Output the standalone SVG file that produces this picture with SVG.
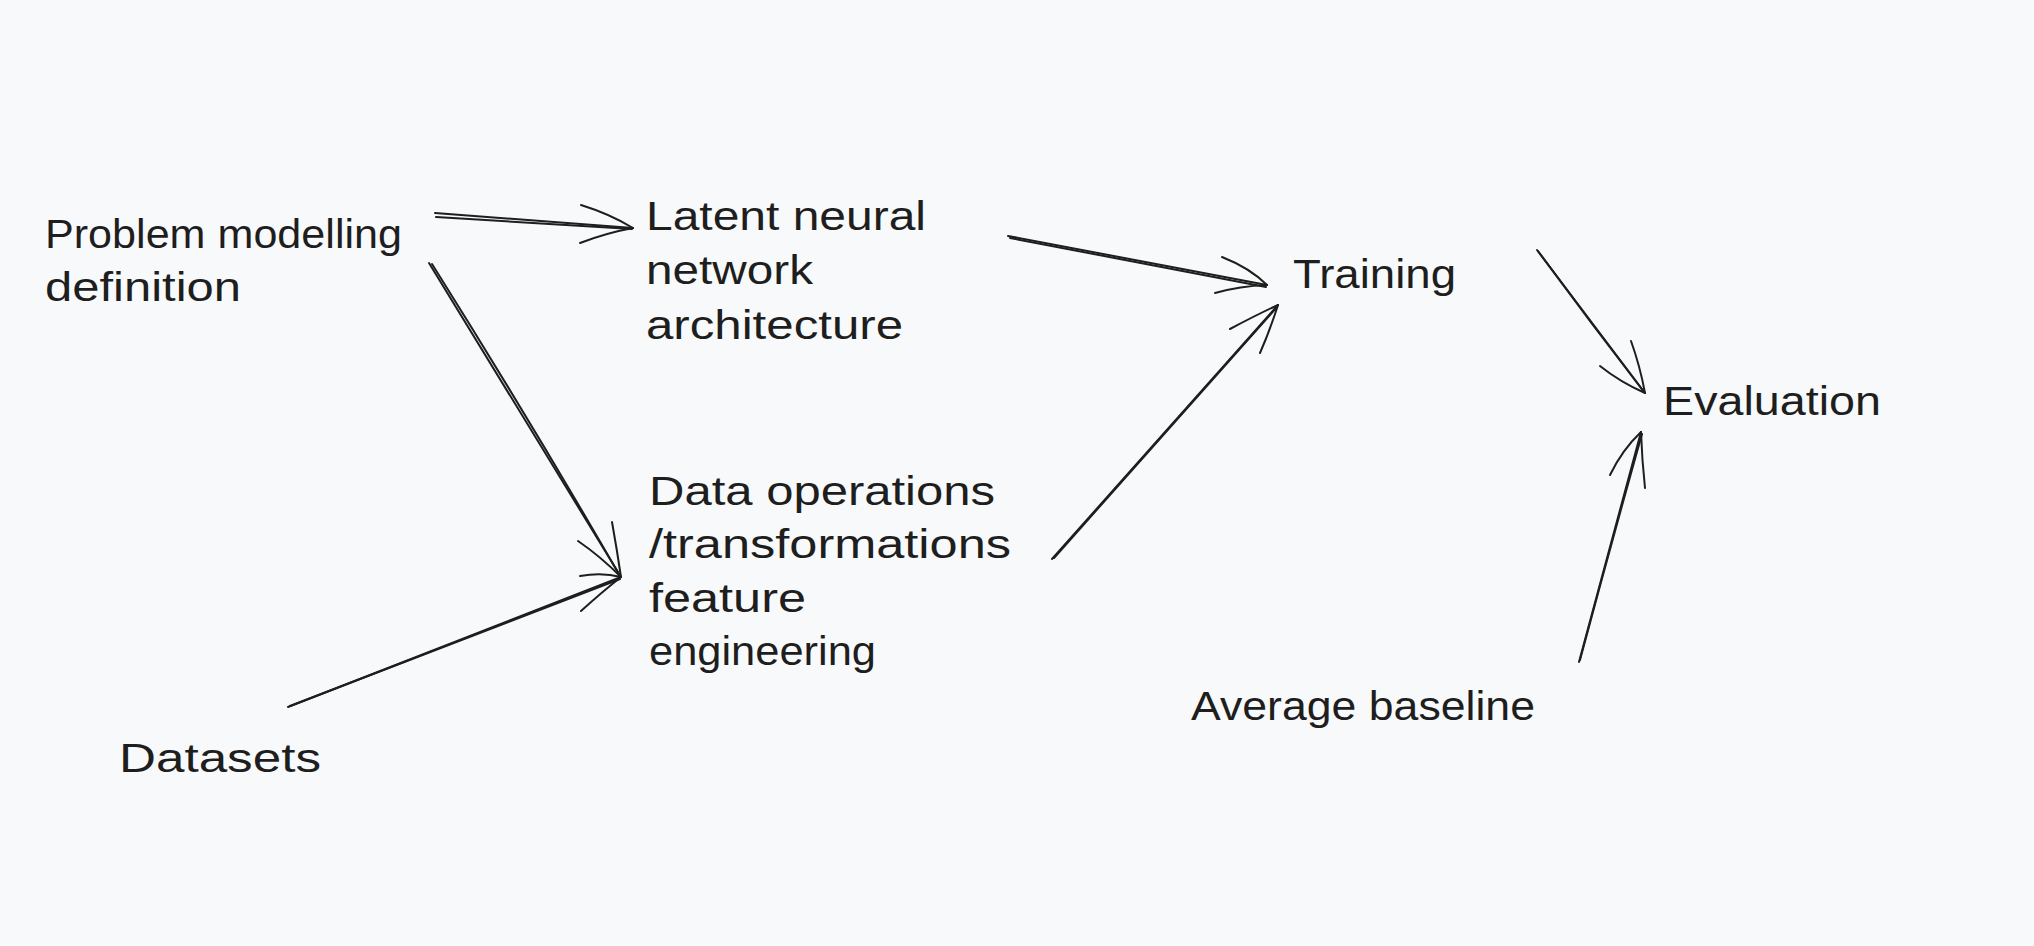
<svg xmlns="http://www.w3.org/2000/svg" width="2034" height="946" viewBox="0 0 2034 946">
<style>
  .t { font-family: "Liberation Sans", "DejaVu Sans", sans-serif; font-size: 40px; fill: #1e1e1e; }
  .c path { fill: none; stroke: #1e1e1e; stroke-width: 2; stroke-linecap: round; stroke-linejoin: round; }
</style>
<rect x="0" y="0" width="2034" height="946" fill="#f8f9fa"/>
<g id="node-problem">
  <text class="t" x="45" y="248" textLength="357" lengthAdjust="spacingAndGlyphs">Problem modelling</text>
  <text class="t" x="45" y="301" textLength="196" lengthAdjust="spacingAndGlyphs">definition</text>
</g>
<g id="node-latent">
  <text class="t" x="646" y="230" textLength="280" lengthAdjust="spacingAndGlyphs">Latent neural</text>
  <text class="t" x="646" y="284" textLength="167" lengthAdjust="spacingAndGlyphs">network</text>
  <text class="t" x="646" y="339" textLength="257" lengthAdjust="spacingAndGlyphs">architecture</text>
</g>
<g id="node-data">
  <text class="t" x="649" y="505" textLength="346" lengthAdjust="spacingAndGlyphs">Data operations</text>
  <text class="t" x="649" y="558" textLength="362" lengthAdjust="spacingAndGlyphs">/transformations</text>
  <text class="t" x="649" y="612" textLength="157" lengthAdjust="spacingAndGlyphs">feature</text>
  <text class="t" x="649" y="665" textLength="227" lengthAdjust="spacingAndGlyphs">engineering</text>
</g>
<g id="node-datasets">
  <text class="t" x="119" y="772" textLength="202" lengthAdjust="spacingAndGlyphs">Datasets</text>
</g>
<g id="node-training">
  <text class="t" x="1293" y="288" textLength="163" lengthAdjust="spacingAndGlyphs">Training</text>
</g>
<g id="node-evaluation">
  <text class="t" x="1663" y="415" textLength="218" lengthAdjust="spacingAndGlyphs">Evaluation</text>
</g>
<g id="node-baseline">
  <text class="t" x="1191" y="720" textLength="344" lengthAdjust="spacingAndGlyphs">Average baseline</text>
</g>
<g id="connectors" class="c">
  <!-- Problem -> Latent -->
  <path d="M435,213 L633,228"/>
  <path d="M436,217 Q540,223 632,229"/>
  <path d="M581,205 Q610,214 633,228"/>
  <path d="M580,243 Q606,233 633,228"/>
  <!-- Problem -> Data -->
  <path d="M429,263 L621,577"/>
  <path d="M432,264 Q530,420 620,576"/>
  <path d="M578,541 Q600,556 621,577"/>
  <path d="M612,522 Q617,550 621,577"/>
  <!-- Datasets -> Data -->
  <path d="M288,707 L621,577"/>
  <path d="M290,706 Q460,640 620,579"/>
  <path d="M580,576 Q602,572 621,577"/>
  <path d="M581,611 Q602,592 621,577"/>
  <!-- Latent -> Training -->
  <path d="M1008,236 L1267,285"/>
  <path d="M1010,238 Q1140,263 1266,287"/>
  <path d="M1222,257 Q1250,268 1267,285"/>
  <path d="M1215,293 Q1240,286 1267,285"/>
  <!-- Data -> Training -->
  <path d="M1052,559 L1278,305"/>
  <path d="M1054,558 Q1170,428 1277,307"/>
  <path d="M1230,329 Q1258,314 1278,305"/>
  <path d="M1260,353 Q1270,330 1278,305"/>
  <!-- Training -> Evaluation -->
  <path d="M1537,250 L1645,393"/>
  <path d="M1538,251 Q1590,322 1644,392"/>
  <path d="M1600,366 Q1620,382 1645,393"/>
  <path d="M1631,341 Q1640,366 1645,393"/>
  <!-- Average -> Evaluation -->
  <path d="M1579,662 L1641,432"/>
  <path d="M1580,660 Q1610,548 1642,434"/>
  <path d="M1610,475 Q1622,450 1641,432"/>
  <path d="M1645,488 Q1642,460 1641,432"/>
</g>
</svg>
